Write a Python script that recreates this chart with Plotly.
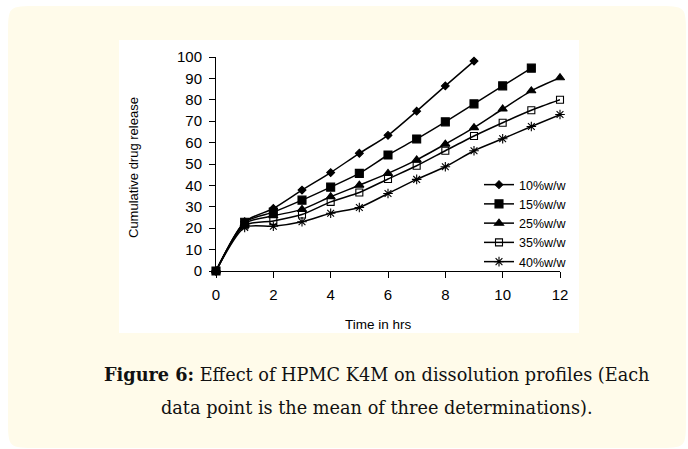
import plotly.graph_objects as go

# ---- data ----
time_hrs = [0, 1, 2, 3, 4, 5, 6, 7, 8, 9, 10, 11, 12]
series_names = ["10%w/w", "15%w/w", "25%w/w", "35%w/w", "40%w/w"]
rel_10 = [0, 23.0, 29.2, 37.8, 46.0, 55.0, 63.4, 74.7, 86.5, 98.1]
rel_15 = [0, 22.8, 27.5, 33.1, 39.2, 45.6, 54.2, 61.7, 69.7, 78.1, 86.5, 94.8]
rel_25 = [0, 22.2, 25.8, 28.8, 34.7, 40.1, 45.6, 51.9, 59.3, 67.0, 75.7, 84.2, 90.3]
rel_35 = [0, 21.4, 23.4, 26.4, 32.3, 36.7, 43.0, 49.2, 56.2, 63.1, 69.3, 75.1, 80.0]
rel_40 = [0, 20.4, 20.9, 23.0, 27.0, 29.7, 36.2, 42.8, 48.7, 56.2, 61.8, 67.5, 73.1]
y_ticks = [0, 10, 20, 30, 40, 50, 60, 70, 80, 90, 100]
x_ticks = [0, 2, 4, 6, 8, 10, 12]

W, H = 688, 449
ML, MR, MT, MB = 216, 128, 57, 178
PW, PH = W - ML - MR, H - MT - MB


def px(x):
    return (x - ML) / PW


def py(y):
    return (H - MB - y) / PH


series = [
    (rel_10, "diamond", 6),
    (rel_15, "square", 8),
    (rel_25, "triangle-up", 8),
    (rel_35, "square-open", 7),
    (rel_40, "asterisk-open", 8),
]

fig = go.Figure()
for name, (vals, sym, sz) in zip(series_names, series):
    fig.add_trace(go.Scatter(
        x=time_hrs[:len(vals)], y=vals, name=name, mode="lines+markers",
        line=dict(color="black", width=1.5, shape="spline", smoothing=0.7),
        marker=dict(symbol=sym, size=sz, color="black",
                    line=dict(color="black", width=1.1)),
        cliponaxis=False,
    ))

# background boxes
x0, y0, x1, y1, r = 8, 6, 686, 448, 30
path = (f"M {px(x0+r)},{py(y0)} L {px(x1-r)},{py(y0)} "
        f"C {px(x1)},{py(y0)} {px(x1)},{py(y0)} {px(x1)},{py(y0+r)} "
        f"L {px(x1)},{py(y1-r)} "
        f"C {px(x1)},{py(y1)} {px(x1)},{py(y1)} {px(x1-r)},{py(y1)} "
        f"L {px(x0+r)},{py(y1)} "
        f"C {px(x0)},{py(y1)} {px(x0)},{py(y1)} {px(x0)},{py(y1-r)} "
        f"L {px(x0)},{py(y0+r)} "
        f"C {px(x0)},{py(y0)} {px(x0)},{py(y0)} {px(x0+r)},{py(y0)} Z")
shapes = [
    dict(type="path", xref="paper", yref="paper", path=path,
         fillcolor="#FFFBEA", line=dict(width=0), layer="below"),
    dict(type="rect", xref="paper", yref="paper",
         x0=px(119), x1=px(579), y0=py(333), y1=py(40),
         fillcolor="white", line=dict(width=0), layer="below"),
]

annotations = [
    dict(text="Cumulative drug release", xref="paper", yref="paper",
         x=px(133), y=py(168), textangle=-90, showarrow=False,
         font=dict(family="Liberation Sans, Arial", size=13, color="black"),
         xanchor="center", yanchor="middle"),
    dict(text="Time in hrs", xref="paper", yref="paper",
         x=px(378), y=py(324), showarrow=False,
         font=dict(family="Liberation Sans, Arial", size=13.5, color="black"),
         xanchor="center", yanchor="middle"),
    dict(text="<b>Figure 6:</b> Effect of HPMC K4M on dissolution profiles (Each",
         xref="paper", yref="paper", x=px(377), y=py(374), showarrow=False,
         font=dict(family="DejaVu Serif", size=17.7, color="#111111"),
         xanchor="center", yanchor="middle"),
    dict(text="data point is the mean of three determinations).",
         xref="paper", yref="paper", x=px(377), y=py(408), showarrow=False,
         font=dict(family="DejaVu Serif", size=17.7, color="#111111"),
         xanchor="center", yanchor="middle"),
]

fig.update_layout(
    width=W, height=H,
    margin=dict(l=ML, r=MR, t=MT, b=MB, autoexpand=False),
    paper_bgcolor="white", plot_bgcolor="rgba(0,0,0,0)",
    shapes=shapes, annotations=annotations,
    font=dict(family="Liberation Sans, Arial", color="black"),
    legend=dict(x=px(479), y=py(170), xanchor="left", yanchor="top",
                bgcolor="rgba(0,0,0,0)", font=dict(size=12.5),
                tracegroupgap=0, itemwidth=30),
    showlegend=True,
)
fig.update_xaxes(range=[0, 12], tickvals=x_ticks, showgrid=False, zeroline=False,
                 showline=True, linecolor="black", linewidth=1,
                 ticks="outside", ticklen=6, tickcolor="black",
                 tickfont=dict(size=15), ticklabelstandoff=4)
fig.update_yaxes(range=[0, 100], tickvals=y_ticks, showgrid=False, zeroline=False,
                 showline=True, linecolor="black", linewidth=1,
                 ticks="outside", ticklen=6, tickcolor="black",
                 tickfont=dict(size=15), ticklabelstandoff=4)

fig.write_html("out.html")
